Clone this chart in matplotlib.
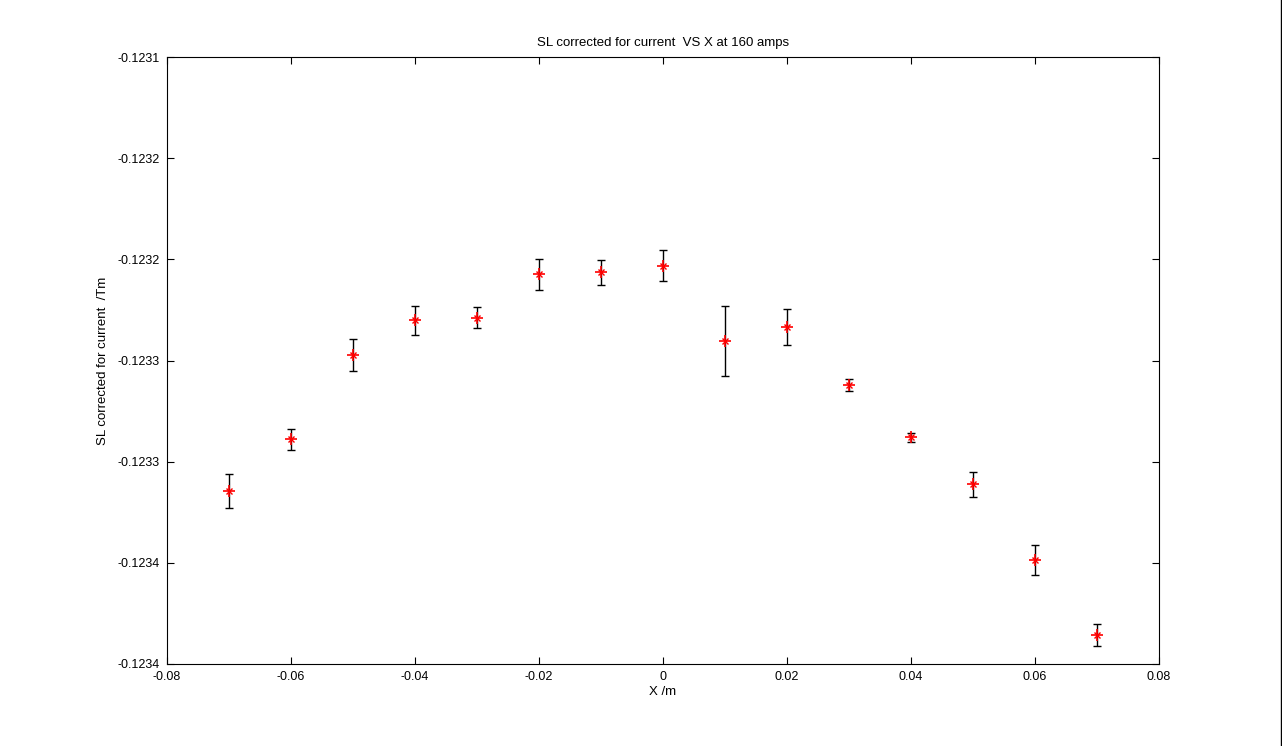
import matplotlib
matplotlib.use("Agg")
import matplotlib.pyplot as plt
from matplotlib.lines import Line2D

x_vals = [-0.07, -0.06, -0.05, -0.04, -0.03, -0.02, -0.01, 0.0, 0.01, 0.02, 0.03, 0.04, 0.05, 0.06, 0.07]
sl_vals = [-0.12331450, -0.12328894, -0.12324728, -0.12323013, -0.12322899, -0.12320725,
           -0.12320641, -0.12320329, -0.12324036, -0.12323359, -0.12326211, -0.12328796,
           -0.12331104, -0.12334860, -0.12338567]
sl_err = [8.40e-6, 5.19e-6, 7.91e-6, 7.17e-6, 5.19e-6, 7.66e-6, 6.18e-6, 7.66e-6,
          1.747e-5, 8.90e-6, 3.21e-6, 2.30e-6, 6.18e-6, 7.41e-6, 5.44e-6]

x_ticks = [-0.08, -0.06, -0.04, -0.02, 0.0, 0.02, 0.04, 0.06, 0.08]
x_tick_labels = ['-0.08', '-0.06', '-0.04', '-0.02', '0', '0.02', '0.04', '0.06', '0.08']
y_ticks = [-0.12340, -0.12335, -0.12330, -0.12325, -0.12320, -0.12315, -0.12310]
y_tick_labels = ['-0.1234', '-0.1234', '-0.1233', '-0.1233', '-0.1232', '-0.1232', '-0.1231']

plt.rcParams['font.family'] = ['Liberation Sans', 'DejaVu Sans']

fig = plt.figure(figsize=(12.82, 7.46), dpi=100)
fig.patch.set_facecolor('white')
ax = fig.add_axes([167/1282, 1 - 664/746, (1159-167)/1282, (664-57)/746])

ax.errorbar(x_vals, sl_vals, yerr=sl_err, fmt='none', ecolor='black',
            elinewidth=1.0, capsize=3.2, capthick=1.0)
ax.plot(x_vals, sl_vals, linestyle='none', marker='+', color='red',
        markersize=9, markeredgewidth=1.2)
ax.plot(x_vals, sl_vals, linestyle='none', marker='x', color='red',
        markersize=5, markeredgewidth=1.0)

ax.set_xlim(-0.08, 0.08)
ax.set_ylim(-0.12340, -0.12310)
ax.set_xticks(x_ticks)
ax.set_xticklabels(x_tick_labels)
ax.set_yticks(y_ticks)
ax.set_yticklabels(y_tick_labels)
ax.tick_params(direction='in', length=5, width=0.8, top=True, right=True,
               labelsize=9, pad=5)
for s in ax.spines.values():
    s.set_linewidth(0.8)

ax.set_title('SL corrected for current  VS X at 160 amps', fontsize=9.5, pad=8)
ax.set_xlabel('X /m', fontsize=9.5, labelpad=2)
ax.set_ylabel('SL corrected for current  /Tm', fontsize=9.5, labelpad=6)

fig.add_artist(Line2D([1281/1282, 1281/1282], [0, 1], transform=fig.transFigure,
                      color='black', linewidth=1))

fig.savefig('out.png', dpi=100, facecolor='white')
